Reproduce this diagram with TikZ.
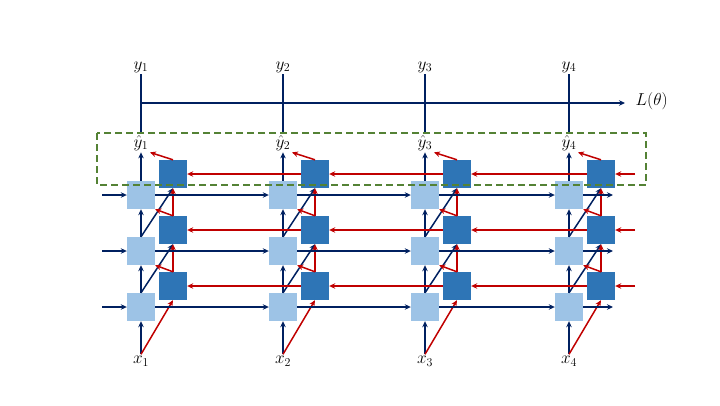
\documentclass[tikz,border=0pt]{standalone}
\usepackage{amsmath}
\usepackage{xcolor}
\usetikzlibrary{arrows.meta}

\definecolor{navy}{HTML}{002060}
\definecolor{darkred}{HTML}{C00000}
\definecolor{boxlight}{HTML}{9DC3E6}
\definecolor{boxdark}{HTML}{2E75B6}
\definecolor{dashgreen}{HTML}{548235}

\begin{document}
\begin{tikzpicture}[
      x=1pt, y=-1pt,
      fwd/.style={fill=boxlight, minimum size=28pt, inner sep=0pt},
      bwd/.style={fill=boxdark, minimum size=28pt, inner sep=0pt},
      farr/.style={-{Stealth[length=6pt, width=5.5pt]}, line width=1.5pt, navy},
      barr/.style={-{Stealth[length=6pt, width=5.5pt]}, line width=1.5pt, darkred},
      lbl/.style={font=\fontsize{17}{20}\selectfont, inner sep=1.5pt}
    ]
    \useasboundingbox (0,0) rectangle (720,405);

    % ══ BOXES AND LABELS ═════════════════════════════════════════════════════
    \foreach \i/\cx in {1/141, 2/283, 3/425, 4/569} {
      \foreach \l/\ry in {1/307, 2/251, 3/195} {
        \node[fwd] (f\i\l) at (\cx,\ry) {};
        \node[bwd] (b\i\l) at (\cx+32,\ry-21) {};
      }
      \node[lbl] (x\i) at (\cx,361) {$x_{\i}$};
      \node[lbl] (yh\i) at (\cx,143) {$\hat{y}_{\i}$};
      \node[lbl] (y\i) at (\cx,67) {$y_{\i}$};
    }

    % ══ VERTICAL: input -> layers -> output ══════════════════════════════════
    \foreach \i in {1,...,4} {
      \draw[farr] (x\i.north) -- (f\i1.south);
      \draw[barr] (x\i.north) -- (b\i1.south);
      \foreach \l/\u in {1/2, 2/3} {
        \draw[farr] (f\i\l.north) -- (f\i\u.south);
        \draw[farr] (f\i\l.north) -- (b\i\u.south);
        \draw[barr] (b\i\l.north) -- (b\i\u.south);
        \draw[barr] (b\i\l.north) -- (f\i\u.south east);
      }
      \draw[farr] (f\i3.north) -- (yh\i.south);
      \draw[barr] (b\i3.north) -- (yh\i.south east);
      \draw[line width=1.5pt, navy] (yh\i.north) -- (y\i.south);
    }

    % ══ HORIZONTAL: forward (left to right), backward (right to left) ════════
    \foreach \i/\n in {1/2, 2/3, 3/4} {
      \foreach \l in {1,2,3} {
        \draw[farr] (f\i\l.east) -- (f\n\l.west);
        \draw[barr] (b\n\l.west) -- (b\i\l.east);
      }
    }

    % open ends of each layer
    \foreach \l/\ry in {1/307, 2/251, 3/195} {
      \coordinate (fin\l) at (102,\ry);
      \coordinate (fout\l) at (613,\ry);
      \coordinate (bin\l) at (635,\ry-21);
      \draw[farr] (fin\l) -- (f1\l.west);
      \draw[farr] (f4\l.east) -- (fout\l);
      \draw[barr] (bin\l) -- (b4\l.east);
    }

    % ══ LOSS ═════════════════════════════════════════════════════════════════
    \coordinate (lstart) at (141,103);
    \coordinate (lend) at (625,103);
    \node[lbl, anchor=west] (loss) at (634,101) {$L(\theta)$};
    \draw[farr] (lstart) -- (lend);

    % output layer frame
    \draw[dashgreen, line width=1.5pt, dash pattern=on 7pt off 4pt]
      (97,133) rectangle (646,185);

  \end{tikzpicture}
\end{document}
